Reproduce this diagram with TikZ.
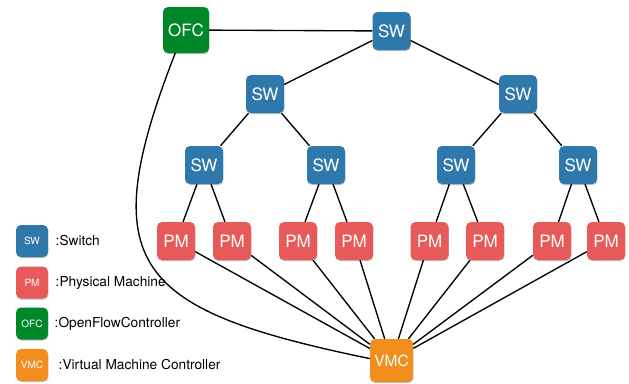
\documentclass[tikz,border=0pt]{standalone}
\usepackage{fontspec}
\setmainfont{TeX Gyre Heros}
\usetikzlibrary{shadows}
\definecolor{swblue}{RGB}{46,120,172}
\definecolor{pmred}{RGB}{232,90,90}
\definecolor{ofcgreen}{RGB}{0,136,40}
\definecolor{vmcorange}{RGB}{242,142,30}
\begin{document}
\begin{tikzpicture}[x=1pt,y=-1pt,
  box/.style={rounded corners=5pt, text=white, inner sep=0pt,
    drop shadow={shadow xshift=0.4pt, shadow yshift=-1pt, opacity=0.25, fill=black}},
  big/.style={font=\fontsize{17}{17}\selectfont},
  small/.style={font=\fontsize{10}{10}\selectfont},
  swbox/.style={box, fill=swblue},
  pmbox/.style={box, fill=pmred},
  ofcbox/.style={box, fill=ofcgreen},
  vmcbox/.style={box, fill=vmcorange},
  legtext/.style={anchor=west, inner sep=0pt, font=\fontsize{13.7}{13.7}\selectfont},
  link/.style={line width=1.35pt, black}]
\useasboundingbox (0,0) rectangle (629,383);

% controllers
\node[ofcbox, big, minimum size=46pt] (ofc) at (186,30) {OFC};
\node[vmcbox, minimum size=43pt, font=\fontsize{15.5}{15.5}\selectfont] (vmc) at (391.5,360.5) {VMC};

% switch tree
\node[swbox, big, minimum size=38pt] (sw0) at (391.5,31) {SW};
\node[swbox, big, minimum size=38pt] (sw1) at (265,94) {SW};
\node[swbox, big, minimum size=38pt] (sw2) at (518,94) {SW};
\node[swbox, big, minimum size=38pt] (sw11) at (204,165) {SW};
\node[swbox, big, minimum size=38pt] (sw12) at (326,165) {SW};
\node[swbox, big, minimum size=38pt] (sw21) at (456,165) {SW};
\node[swbox, big, minimum size=38pt] (sw22) at (578,165) {SW};

% physical machines
\foreach \i/\x in {1/176,2/232,3/298,4/354,5/429.5,6/485,7/552,8/606}
  \node[pmbox, big, minimum size=38pt] (pm\i) at (\x,241) {PM};

% legend
\node[swbox, small, minimum size=32pt] (lsw) at (32,241) {SW};
\node[pmbox, small, minimum size=32pt] (lpm) at (32,282.5) {PM};
\node[ofcbox, small, minimum size=32pt] (lofc) at (32,323.5) {OFC};
\node[vmcbox, small, minimum size=32pt] (lvmc) at (32,365) {VMC};
\node[legtext] (tsw) at (55.5,241) {:Switch};
\node[legtext] (tpm) at (55.5,283) {:Physical Machine};
\node[legtext] (tofc) at (54.5,324) {:OpenFlowController};
\node[legtext] (tvmc) at (58.5,365) {:Virtual Machine Controller};

% links
\draw[link] (ofc) -- (sw0);
\draw[link] (sw0) -- (sw1);
\draw[link] (sw0) -- (sw2);
\draw[link] (sw1) -- (sw11);
\draw[link] (sw1) -- (sw12);
\draw[link] (sw2) -- (sw21);
\draw[link] (sw2) -- (sw22);
\draw[link] (sw11) -- (pm1);
\draw[link] (sw11) -- (pm2);
\draw[link] (sw12) -- (pm3);
\draw[link] (sw12) -- (pm4);
\draw[link] (sw21) -- (pm5);
\draw[link] (sw21) -- (pm6);
\draw[link] (sw22) -- (pm7);
\draw[link] (sw22) -- (pm8);
\foreach \i in {1,...,8}
  \draw[link] (pm\i) -- (vmc);
\draw[link] (ofc.245) .. controls (92,267) and (135,310) .. (vmc.175);
\end{tikzpicture}
\end{document}
